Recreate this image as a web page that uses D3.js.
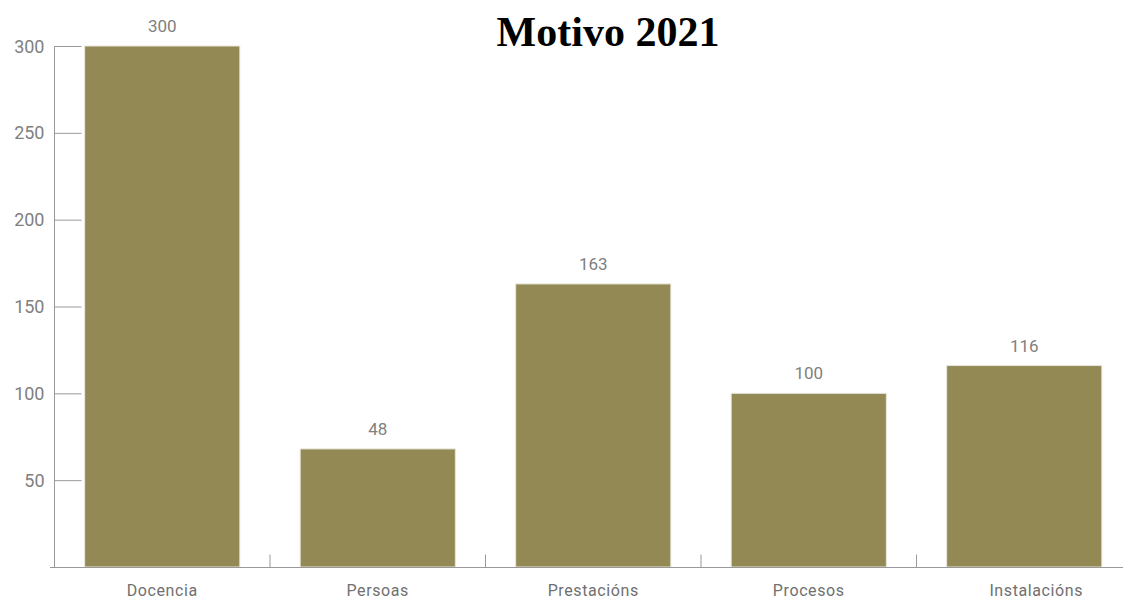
<!DOCTYPE html>
<html><head><meta charset="utf-8">
<script src="https://cdn.jsdelivr.net/npm/d3@7"></script>
<style>body{margin:0;background:#fff}svg{display:block}</style>
</head><body>
<svg id="c" width="1123" height="601"></svg>
<script>
const categories = ["Docencia","Persoas","Prestacións","Procesos","Instalacións"];
const values = [300, 68, 163, 100, 116];
const valueLabels = ["300","48","163","100","116"];
const yTicks = [50,100,150,200,250,300];
const title = "Motivo 2021";

const svg = d3.select("#c");
const x = d3.scaleBand().domain(categories).range([54.5, 1132]).padding(0);
const y = d3.scaleLinear().domain([0, 300]).range([567, 46]);
const barPad = 0.14;

// bars
svg.selectAll("rect.bar").data(categories).enter().append("rect")
  .attr("x", d => x(d) + x.step()*barPad)
  .attr("width", x.step()*(1-2*barPad))
  .attr("y", (d,i) => y(values[i]))
  .attr("height", (d,i) => y(0) - y(values[i]))
  .attr("fill", "#938954")
  .attr("stroke", "#e8e6da").attr("stroke-width", 1);

// y axis
const yAxis = svg.append("g").attr("transform", "translate(54.5,0)")
  .call(d3.axisRight(y).tickValues(yTicks).tickSize(27).tickFormat(d3.format("d")));
yAxis.select(".domain").attr("d", `M0,${y(300)}V${y(0)}`);
yAxis.selectAll(".tick line").attr("stroke", "#999");
yAxis.select(".domain").attr("stroke", "#999");
yAxis.selectAll(".tick text").attr("x", -10).attr("text-anchor", "end").attr("dy", "0.34em")
  .attr("fill", "#808080").style("font-family", "Roboto").style("font-size", "18px");

// x axis
const bounds = categories.slice(1).map(c => x(c));
const xg = svg.append("g").attr("transform", `translate(0,${y(0)+0.5})`);
xg.append("line").attr("x1", 50).attr("x2", 1123).attr("stroke", "#999");
xg.selectAll("line.t").data(bounds).enter().append("line")
  .attr("x1", d => d).attr("x2", d => d).attr("y1", 0).attr("y2", -13).attr("stroke", "#999");
svg.selectAll("text.cat").data(categories).enter().append("text")
  .attr("class", "cat")
  .attr("x", d => x(d) + x.bandwidth()/2 + (d === "Instalacións" ? 12 : 0))
  .attr("y", 596).attr("text-anchor", "middle")
  .attr("fill", "#707070").style("font-family", "Roboto").style("font-size", "16px")
  .style("letter-spacing", "0.6px")
  .text(d => d);

// value labels
svg.selectAll("text.val").data(categories).enter().append("text")
  .attr("class", "val")
  .attr("x", d => x(d) + x.bandwidth()/2)
  .attr("y", (d,i) => y(values[i]) - 14)
  .attr("text-anchor", "middle")
  .attr("fill", "#808080").style("font-family", "Roboto").style("font-size", "17px")
  .text((d,i) => valueLabels[i]);

// title
svg.append("text").attr("x", 608).attr("y", 46).attr("text-anchor", "middle")
  .style("font-family", "'Liberation Serif', serif").style("font-weight", "bold")
  .style("font-size", "42px").attr("fill", "#000").text(title);
</script>
</body></html>
